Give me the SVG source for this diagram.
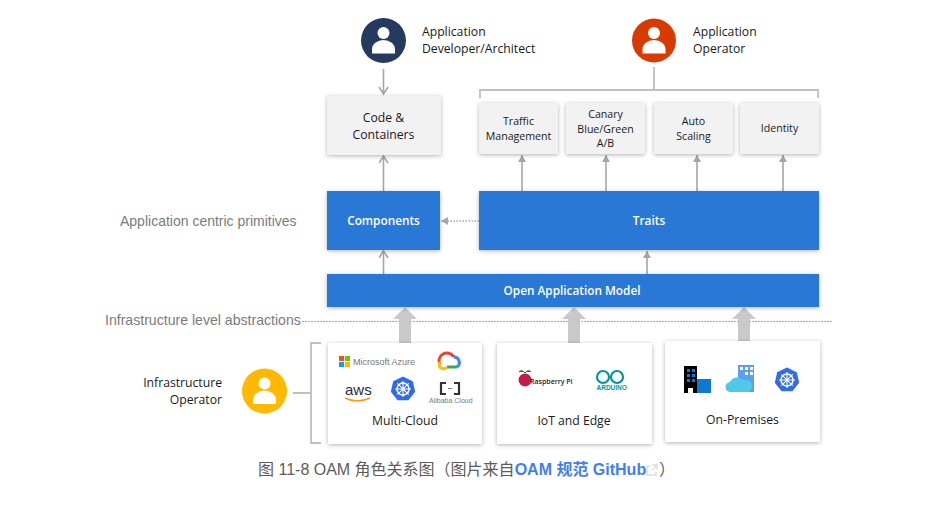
<svg xmlns="http://www.w3.org/2000/svg" width="933" height="506" viewBox="0 0 933 506">
<style>
text{font-family:"Open Sans","Noto Sans",sans-serif;fill:#1a1a1a;font-size:12.200px;text-anchor:middle}
.l{text-anchor:start}
.r{text-anchor:end}
.s{font-size:10.600px}
.w{fill:#fff;font-weight:600;font-size:11.800px}
.g{font-family:"Liberation Sans",Arial,sans-serif;fill:#7b7b7b;font-size:14px;text-anchor:start}
.cap{font-family:"Liberation Sans","Noto Sans CJK SC",sans-serif;fill:#5c5c5c;font-size:16px;text-anchor:start}
.lnk{font-family:"Liberation Sans","Noto Sans CJK SC",sans-serif;fill:#4080ee;font-size:16px;font-weight:600;text-anchor:start}
.logo{font-family:"Liberation Sans",Arial,sans-serif;fill:#777;text-anchor:start}
.lt{fill:#f2f2f2;filter:url(#sh)}
.bl{fill:#2b78d6;filter:url(#sh)}
.wh{fill:#fff;filter:url(#sh)}
.c{fill:none;stroke:#a6a6a6;stroke-width:1.600}
.b{fill:none;stroke:#bfbfbf;stroke-width:1.800}
.fat{fill:#c9c9c9}
.k{fill:#326ce5}
</style>
<defs>
<filter id="sh" x="-15%" y="-15%" width="130%" height="130%"><feDropShadow dx="0" dy="1" stdDeviation="2" flood-color="#000" flood-opacity="0.3"/></filter>
<marker id="a" markerWidth="12" markerHeight="12" refX="8" refY="5" orient="auto" markerUnits="userSpaceOnUse"><path d="M1 0.500L8 5L1 9.500" fill="none" stroke="#a6a6a6" stroke-width="1.600"/></marker>
<marker id="t" markerWidth="9" markerHeight="9" refX="7" refY="4" orient="auto" markerUnits="userSpaceOnUse"><path d="M0 0L7 4L0 8Z" fill="#a6a6a6"/></marker>
<g id="p"><circle cx="0" cy="-7.500" r="6" fill="#fff"/><path d="M-11.500 13V9A11.500 9.500 0 0 1 11.500 9V13Z" fill="#fff"/></g>
<g id="kube"><path class="k" d="M0 -12.500L9.800 -7.800L12.200 2.800L5.400 11.300H-5.400L-12.200 2.800L-9.800 -7.800Z"/><circle r="6" fill="none" stroke="#fff" stroke-width="1.500"/><path d="M0 -8V8M-8 0H8M-5.700 -5.700L5.700 5.700M-5.700 5.700L5.700 -5.700" stroke="#fff" stroke-width="1.100"/></g>
</defs>

<g id="connectors">
<path class="c" marker-end="url(#a)" d="M383.500 69V94"/>
<path class="c" marker-end="url(#a)" d="M383.500 191V156"/>
<path class="c" marker-end="url(#a)" d="M383.500 274V251"/>
<path class="c" marker-end="url(#t)" d="M522 191V155"/>
<path class="c" marker-end="url(#t)" d="M606 191V155"/>
<path class="c" marker-end="url(#t)" d="M697 191V155"/>
<path class="c" marker-end="url(#t)" d="M783 191V155"/>
<path class="c" marker-end="url(#t)" d="M647 274V251"/>
<path class="c" stroke-dasharray="1.500 1.500" marker-end="url(#t)" d="M479 221H441"/>
<path class="b" d="M654 67V90M480 98V90H818V98"/>
<path class="b" d="M293 393H311M321 343H311V443H321"/>
<path d="M302 321.500H833" fill="none" stroke="#a0a0a0" stroke-width="0.900" stroke-dasharray="2 1"/>
<path class="fat" d="M405 307L417 319H411V343H399V319H393Z"/>
<path class="fat" d="M574 307L586 319H580V343H568V319H562Z"/>
<path class="fat" d="M744 307L756 319H750V341H738V319H732Z"/>
</g>

<g id="dev"><circle cx="383.500" cy="40.500" r="22.500" fill="#243a5e"/><use href="#p" x="383.500" y="40.500"/>
<text class="l" x="422" y="36">Application</text><text class="l" x="422" y="53">Developer/Architect</text></g>
<g id="op"><circle cx="654" cy="40.500" r="22" fill="#d83b01"/><use href="#p" x="654" y="40.500"/>
<text class="l" x="693" y="36">Application</text><text class="l" x="693" y="53">Operator</text></g>

<g id="code"><rect class="lt" x="327" y="96" width="114" height="59"/><text x="383.500" y="122">Code &amp;</text><text x="383.500" y="139">Containers</text></g>
<g id="traffic"><rect class="lt" x="479" y="103" width="79" height="51"/><text class="s" x="518.500" y="125">Traffic</text><text class="s" x="518.500" y="140">Management</text></g>
<g id="canary"><rect class="lt" x="566" y="103" width="79" height="51"/><text class="s" x="605.500" y="118">Canary</text><text class="s" x="605.500" y="133">Blue/Green</text><text class="s" x="605.500" y="147">A/B</text></g>
<g id="auto"><rect class="lt" x="654" y="103" width="79" height="51"/><text class="s" x="693.500" y="125">Auto</text><text class="s" x="693.500" y="140">Scaling</text></g>
<g id="identity"><rect class="lt" x="740" y="103" width="79" height="51"/><text class="s" x="779.500" y="132">Identity</text></g>

<g id="components"><rect class="bl" x="327" y="191" width="113" height="59"/><text class="w" x="383.500" y="225">Components</text></g>
<g id="traits"><rect class="bl" x="479" y="191" width="340" height="59"/><text class="w" x="649" y="225">Traits</text></g>
<g id="oam"><rect class="bl" x="327" y="274" width="492" height="33"/><text class="w" x="572" y="295">Open Application Model</text></g>

<text class="g" x="120" y="226">Application centric primitives</text>
<text class="g" x="105" y="325" style="font-size:14.100px">Infrastructure level abstractions</text>

<g id="infra"><circle cx="264.500" cy="391" r="22.500" fill="#ffb900"/><use href="#p" x="264.500" y="391"/>
<text class="r" x="222" y="387">Infrastructure</text><text class="r" x="222" y="404">Operator</text></g>

<g id="multi"><rect class="wh" x="328" y="343" width="154" height="101"/>
<rect x="339" y="356" width="5" height="5" fill="#f25022"/><rect x="345" y="356" width="5" height="5" fill="#7fba00"/><rect x="339" y="362" width="5" height="5" fill="#00a4ef"/><rect x="345" y="362" width="5" height="5" fill="#ffb900"/>
<text class="logo" x="353" y="365" style="font-size:9px">Microsoft Azure</text>
<path d="M440 365A7.500 7.500 0 0 1 454 357" fill="none" stroke="#ea4335" stroke-width="3"/><path d="M454 357A5.500 5.500 0 0 1 457 367" fill="none" stroke="#4285f4" stroke-width="3"/><path d="M457 367H447" fill="none" stroke="#34a853" stroke-width="3"/><path d="M447 367A3.500 3.500 0 0 1 440 362" fill="none" stroke="#fbbc05" stroke-width="3"/>
<text class="logo" x="345" y="395" style="font-size:15px;fill:#232f3e">aws</text>
<path d="M345 398Q357 404 370 398" fill="none" stroke="#ff9900" stroke-width="1.500"/>
<use href="#kube" x="403" y="389"/>
<path d="M446 383H441V394H446M454 383H459V394H454" fill="none" stroke="#333" stroke-width="2.200"/>
<path d="M448 388.500H452" stroke="#555" stroke-width="0.800"/>
<text class="logo" x="429" y="403" style="font-size:7px">Alibaba Cloud</text>
<text x="405" y="425">Multi-Cloud</text></g>

<g id="iot"><rect class="wh" x="497" y="343" width="155" height="101"/>
<circle cx="525" cy="380" r="6.500" fill="#c51a4a"/><path d="M519 372Q522 369 525 373Q528 369 531 372" fill="#2a8a2a" stroke="#1a6a1a"/>
<text class="l" x="530" y="384" style="font-size:7px;font-weight:600">Raspberry Pi</text>
<circle cx="603" cy="377" r="6" fill="none" stroke="#00979c" stroke-width="2.200"/><circle cx="617" cy="377" r="6" fill="none" stroke="#00979c" stroke-width="2.200"/>
<text class="logo" x="596.500" y="390" style="font-size:6.500px;font-weight:700;fill:#00979c">ARDUINO</text>
<text x="574" y="425">IoT and Edge</text></g>

<g id="onprem"><rect class="wh" x="665" y="341" width="155" height="101"/>
<rect x="684" y="366" width="13" height="27" fill="#000"/><rect x="697" y="379" width="14" height="14" fill="#0f78d4"/>
<g fill="#0f78d4"><rect x="687" y="369" width="3" height="3"/><rect x="692" y="369" width="3" height="3"/><rect x="687" y="374" width="3" height="3"/><rect x="692" y="374" width="3" height="3"/><rect x="687" y="379" width="3" height="3"/><rect x="692" y="379" width="3" height="3"/></g>
<rect x="688" y="388" width="5" height="5" fill="#fff"/>
<rect x="738" y="365" width="16" height="27" fill="#5ea0ef"/>
<path d="M731 392a5 5 0 0 1 -1-10a8 8 0 0 1 13-2a6 6 0 0 1 5 12Z" fill="#50c8e8"/>
<g fill="#fff"><rect x="740" y="367" width="3" height="3"/><rect x="745" y="367" width="3" height="3"/><rect x="750" y="367" width="3" height="3"/><rect x="745" y="372" width="3" height="3"/><rect x="750" y="372" width="3" height="3"/></g>
<use href="#kube" x="787" y="380"/>
<text x="742.500" y="424">On-Premises</text></g>

<g id="caption"><text class="cap" x="258" y="475">图 11-8 OAM 角色关系图（图片来自<tspan class="lnk">OAM 规范 GitHub</tspan></text>
<path d="M650 466H647V475H656V472M652 465H657V470M657 465L652 470" fill="none" stroke="#ccc" stroke-width="1"/>
<text class="cap" x="659" y="475">）</text></g>
</svg>
